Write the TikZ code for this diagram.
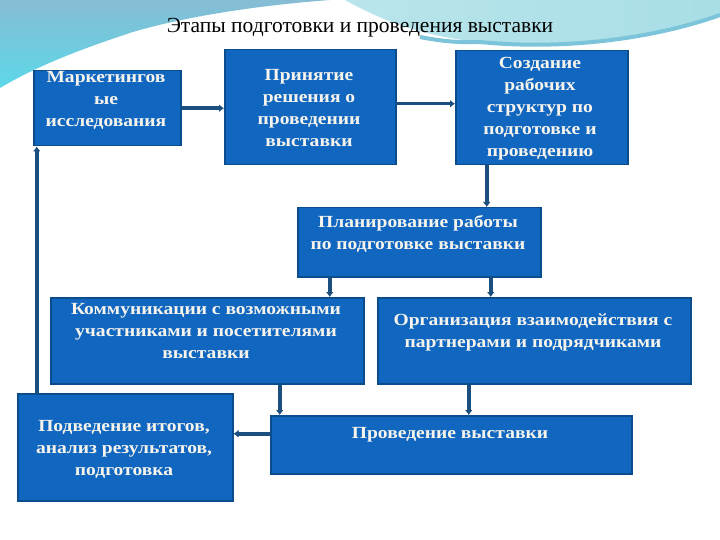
\documentclass[tikz,border=0pt]{standalone}
\usepackage{fontspec}
\setmainfont{Liberation Serif}
\newfontfamily\boxfont[FakeStretch=1.15]{Liberation Serif}
\usetikzlibrary{arrows.meta}
\definecolor{boxblue}{HTML}{1166C0}
\definecolor{boxedge}{HTML}{0B4C8C}
\definecolor{arrowblue}{HTML}{1B4F7E}
\definecolor{boxtext}{HTML}{F6F4EC}
\definecolor{bgtop}{HTML}{86BCD4}
\definecolor{bgcyan}{HTML}{5CD8E8}
\definecolor{bgright}{HTML}{A8DEE6}
\definecolor{bgband}{HTML}{7CC4DA}
\begin{document}
\begin{tikzpicture}[x=1pt,y=-1pt,
 box/.style={draw=boxedge, line width=1.5pt, fill=boxblue, anchor=north west, inner sep=0pt},
 btext/.style={text=boxtext, font=\boxfont\bfseries\fontsize{17}{22}\selectfont, align=center, inner sep=0pt},
 arr/.style={draw=arrowblue, line width=3.5pt, -{Latex[length=5pt,width=8pt]}}]
\useasboundingbox (0,0) rectangle (720,540);
\fill[white] (0,0) rectangle (720,540);
% background swooshes
\shade[top color=bgtop, bottom color=bgcyan] (0,0) -- (330,0) .. controls (250,6) and (180,18) .. (133,32) .. controls (90,46) and (40,64) .. (0,88) -- cycle;
\shade[left color=bgright!80!white, right color=bgright] (345,0) -- (720,0) -- (720,15) .. controls (650,40) and (560,50) .. (480,42) .. controls (430,37) and (390,25) .. (345,0) -- cycle;
\draw[bgband, line width=4pt] (420,37) .. controls (440,41) and (460,43) .. (480,42) .. controls (560,50) and (650,40) .. (720,15);
% title
\node[font=\fontsize{21.5}{25}\selectfont] (title) at (360,28) {Этапы подготовки и проведения выставки};
% boxes
\node[box, minimum width=147pt, minimum height=75pt] (m) at (33,70) {};
\node[box, minimum width=171pt, minimum height=115pt] (p) at (224,49) {};
\node[box, minimum width=172pt, minimum height=114pt] (s) at (455,50) {};
\node[box, minimum width=243pt, minimum height=69pt] (pl) at (297,207) {};
\node[box, minimum width=313pt, minimum height=86pt] (k) at (50,297) {};
\node[box, minimum width=313pt, minimum height=86pt] (o) at (377,297) {};
\node[box, minimum width=215pt, minimum height=107pt] (i) at (17,393) {};
\node[box, minimum width=361pt, minimum height=58pt] (v) at (270,415) {};
% texts
\node[btext] (mt) at (106,100) {Маркетингов\\ые\\исследования};
\node[btext] (pt) at (309,108.5) {Принятие\\решения о\\проведении\\выставки};
\node[btext] (st) at (540,109) {Создание\\рабочих\\структур по\\подготовке и\\проведению};
\node[btext] (plt) at (418,234) {Планирование работы\\по подготовке выставки};
\node[btext] (kt) at (206,331) {Коммуникации с возможными\\участниками и посетителями\\выставки};
\node[btext] (ot) at (533,332) {Организация взаимодействия с\\партнерами и подрядчиками};
\node[btext] (it) at (124,449) {Подведение итогов,\\анализ результатов,\\подготовка};
\node[btext] (vt) at (450,435) {Проведение выставки};
% connectors
\draw[arr] (m.east) -- (p.west |- m.east);
\draw[arr] ([yshift=3.5pt]p.east) coordinate (a1) -- (s.west |- a1);
\draw[arr] ([xshift=-55pt]s.south) coordinate (a2) -- (a2 |- pl.north);
\draw[arr] ([xshift=-89.5pt]pl.south) coordinate (a3) -- (a3 |- k.north);
\draw[arr] ([xshift=71.5pt]pl.south) coordinate (a4) -- (a4 |- o.north);
\draw[arr] ([xshift=72.5pt]k.south) coordinate (a5) -- (a5 |- v.north);
\draw[arr] ([xshift=-65.5pt]o.south) coordinate (a6) -- (a6 |- v.north);
\draw[arr] ([yshift=11pt]v.west) coordinate (a7) -- (a7 -| i.east);
\draw[arr] ([xshift=-88.5pt]i.north) coordinate (a8) -- (a8 |- m.south);
\end{tikzpicture}
\end{document}
